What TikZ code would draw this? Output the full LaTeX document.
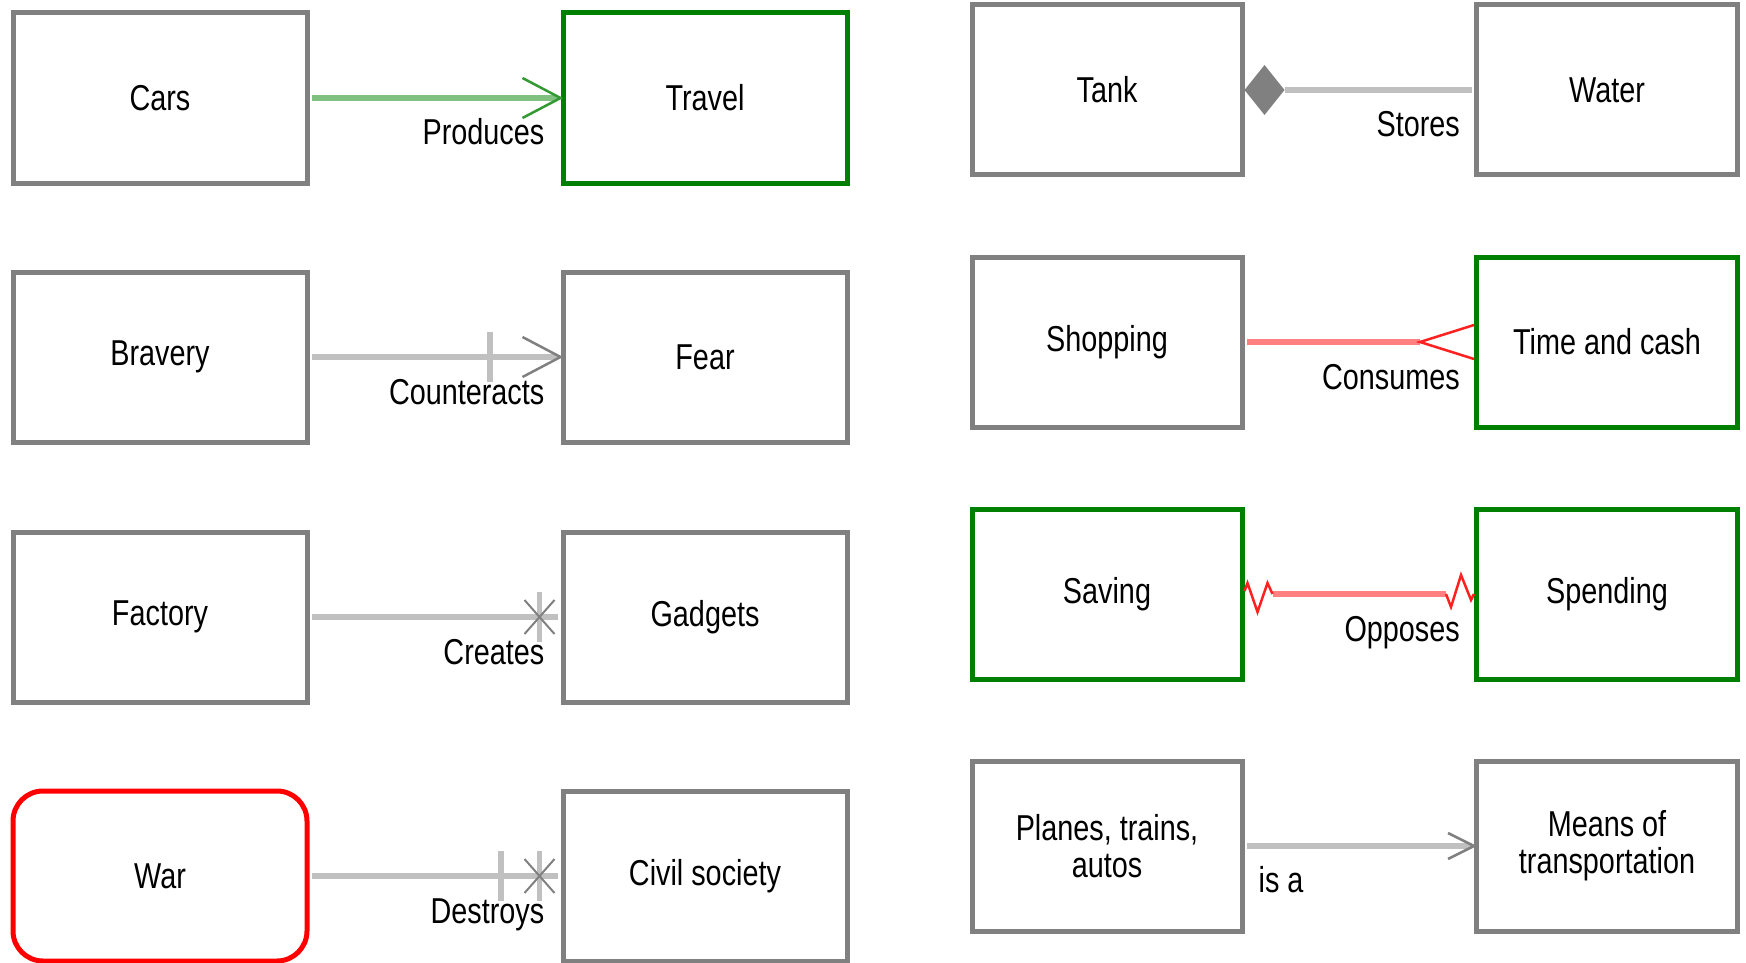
\documentclass[tikz,border=0pt]{standalone}
\usepackage{fontspec}
\setmainfont{Liberation Sans}[FakeStretch=0.8]
\definecolor{boxgray}{HTML}{808080}
\definecolor{linegray}{HTML}{C0C0C0}
\definecolor{linegreen}{HTML}{80C080}
\definecolor{boxgreen}{HTML}{008000}
\definecolor{tipgreen}{HTML}{339933}
\definecolor{linered}{HTML}{FF8080}
\definecolor{tipred}{HTML}{FF2020}
\begin{document}
\begin{tikzpicture}[x=1pt, y=-1pt,
    box/.style={draw=boxgray, line width=5pt, fill=white, minimum height=170pt,
      font=\fontsize{36}{37}\selectfont, align=center, inner sep=0pt},
    leftbox/.style={box, minimum width=294pt},
    midbox/.style={box, minimum width=284pt},
    tankbox/.style={box, minimum width=270pt},
    waterbox/.style={box, minimum width=261pt},
    link/.style={line width=6pt, linegray, shorten <=2.5pt, shorten >=2.5pt},
    tip/.style={line width=2.5pt, boxgray},
    tag/.style={font=\fontsize{36}{37}\selectfont, inner sep=0pt}]
   			\useasboundingbox (0, 0) rectangle (1746, 963);
			\node[leftbox] (cars) at (160, 98) {Cars};
			\node[midbox, draw=boxgreen] (travel) at (705, 98) {Travel};
			\node[leftbox] (bravery) at (160, 357) {Bravery};
			\node[midbox] (fear) at (705, 357) {Fear};
			\node[leftbox] (factory) at (160, 617) {Factory};
			\node[midbox] (gadgets) at (705, 617) {Gadgets};
			\node[leftbox, draw=red, rounded corners=30pt] (war) at (160, 876) {War};
			\node[midbox] (civil) at (705, 876) {Civil society};
			\node[tankbox] (tank) at (1107, 90) {Tank};
			\node[waterbox] (water) at (1607, 90) {Water};
			\node[tankbox] (shopping) at (1107, 342) {Shopping};
			\node[waterbox, draw=boxgreen] (timecash) at (1607, 342) {Time and cash};
			\node[tankbox, draw=boxgreen] (saving) at (1107, 594) {Saving};
			\node[waterbox, draw=boxgreen] (spending) at (1607, 594) {Spending};
			\node[tankbox] (planes) at (1107, 846) {Planes, trains,\\autos};
			\node[waterbox] (means) at (1607, 846) {Means of\\transportation};
    			\draw[link, linegreen] (cars.east) -- (travel.west);
			\draw[tip, tipgreen] (travel.west) ++(-38, -20) -- ++(38, 20) -- ++(-38, 20);
			\node[tag, anchor=base east] (produces) at ([shift={(-16, 47)}]travel.west) {Produces};
    			\draw[link] (bravery.east) -- (fear.west);
			\draw[linegray, line width=6pt] ([shift={(-71, -25)}]fear.west) -- ++(0, 50);
			\draw[tip] (fear.west) ++(-38, -20) -- ++(38, 20) -- ++(-38, 20);
			\node[tag, anchor=base east] (counteracts) at ([shift={(-16, 47)}]fear.west) {Counteracts};
    			\draw[link] (factory.east) -- (gadgets.west);
			\draw[linegray, line width=5pt] ([shift={(-21, -25)}]gadgets.west) -- ++(0, 50);
			\draw[tip, line width=2pt] ([shift={(-36, -17)}]gadgets.west) -- ++(30, 34);
			\draw[tip, line width=2pt] ([shift={(-36, 17)}]gadgets.west) -- ++(30, -34);
			\node[tag, anchor=base east] (creates) at ([shift={(-16, 47)}]gadgets.west) {Creates};
    			\draw[link] (war.east) -- (civil.west);
			\draw[linegray, line width=6pt] ([shift={(-60, -25)}]civil.west) -- ++(0, 50);
			\draw[linegray, line width=5pt] ([shift={(-21, -25)}]civil.west) -- ++(0, 50);
			\draw[tip, line width=2pt] ([shift={(-36, -17)}]civil.west) -- ++(30, 34);
			\draw[tip, line width=2pt] ([shift={(-36, 17)}]civil.west) -- ++(30, -34);
			\node[tag, anchor=base east] (destroys) at ([shift={(-16, 47)}]civil.west) {Destroys};
    			\fill[boxgray] (tank.east) -- ++(20, -25) -- ++(20, 25) -- ++(-20, 25) -- cycle;
			\draw[link, shorten <=0pt] ([shift={(40, 0)}]tank.east) -- (water.west);
			\node[tag, anchor=base east] (stores) at ([shift={(-14, 47)}]water.west) {Stores};
    			\draw[link, linered, shorten >=0pt] (shopping.east) -- ([shift={(-54, 0)}]timecash.west);
			\draw[tip, tipred] ([shift={(0, -17)}]timecash.west) -- ++(-54, 17) -- ++(54, 17);
			\node[tag, anchor=base east] (consumes) at ([shift={(-14, 47)}]timecash.west) {Consumes};
    			\draw[link, linered, shorten <=0pt, shorten >=0pt] ([shift={(28, 0)}]saving.east) -- ([shift={(-28, 0)}]spending.west);
			\draw[tip, tipred] ([shift={(0, -3)}]saving.east) -- ++(3, -8) -- ++(10, 29) -- ++(10, -29) -- ++(5, 11);
			\draw[tip, tipred] ([shift={(-28, 0)}]spending.west) -- ++(5, 13) -- ++(10, -32) -- ++(10, 25) -- ++(3, -6);
			\node[tag, anchor=base east] (opposes) at ([shift={(-14, 47)}]spending.west) {Opposes};
    			\draw[link] (planes.east) -- (means.west);
			\draw[tip] (means.west) ++(-26, -13) -- ++(26, 13) -- ++(-26, 13);
			\node[tag, anchor=base west] (isa) at ([shift={(14, 46)}]planes.east) {is a};
		\end{tikzpicture}
\end{document}
